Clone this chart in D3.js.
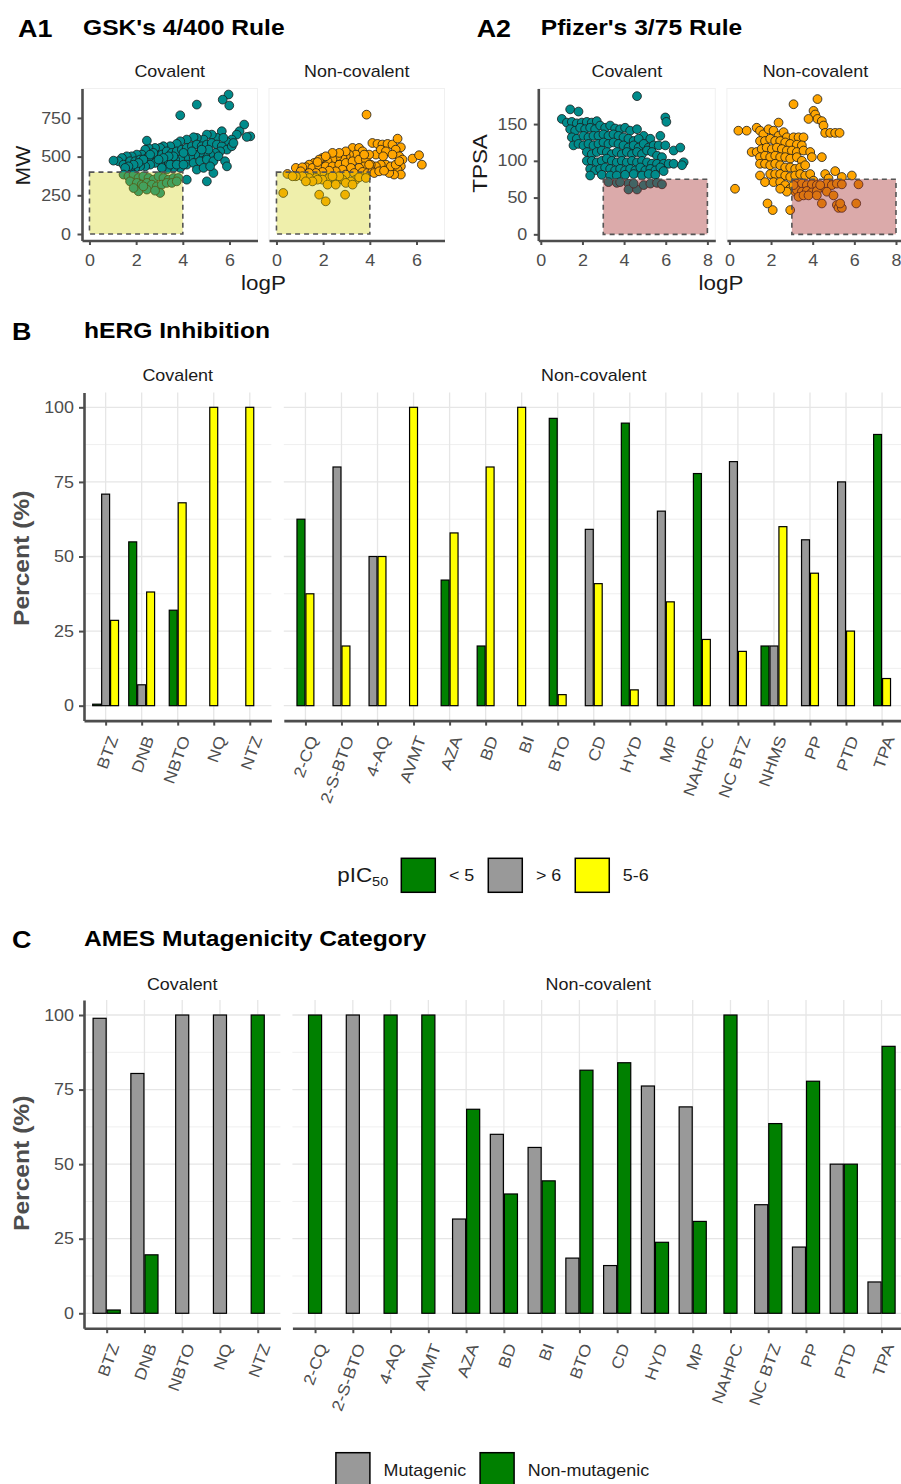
<!DOCTYPE html>
<html>
<head>
<meta charset="utf-8">
<script src="https://cdn.jsdelivr.net/npm/d3@7"></script>
<style>
  body { margin: 0; background: #fff; }
  svg { display: block; font-family: "Liberation Sans", Arial, Helvetica, sans-serif; }
</style>
</head>
<body>
<svg id="fig" width="901" height="1484"></svg>
<script>
// ---------------- Data ----------------
// A1: logP vs MW
const gskCovalent = [
  [5.96,901],[5.71,868],[5.99,830],[4.6,836],[3.89,767],[6.63,707],[6.89,631],[6.74,627],[6.43,664],[6.31,642],
  [6.1,610],[5.89,595],[5.67,664],[5.46,621],[5.24,642],[5.03,642],[4.89,610],[4.6,621],[4.46,625],[4.17,610],
  [3.89,599],[3.74,582],[3.46,567],[3.17,567],[3.03,556],[2.81,556],[2.53,556],[2.39,545],[2.46,603],[2.24,513],
  [2.03,513],[1.81,502],[1.6,502],[1.39,491],[1.24,470],[1.03,474],[1.46,448],[1.74,470],[1.96,470],[2.17,481],
  [2.46,491],[2.67,491],[2.89,502],[3.1,513],[3.31,534],[3.53,524],[3.74,534],[3.96,545],[4.17,556],[4.39,567],
  [4.6,578],[4.81,567],[5.03,578],[5.24,588],[5.46,578],[5.67,567],[5.89,545],[6.1,567],[5.6,534],[5.39,524],
  [5.17,513],[4.96,502],[4.74,524],[4.53,513],[4.31,502],[4.1,491],[3.89,481],[3.67,481],[3.46,470],[3.24,470],
  [3.03,459],[2.81,459],[2.6,448],[2.39,437],[2.17,437],[1.96,427],[1.74,416],[4.17,448],[4.46,459],[4.74,470],
  [5.03,481],[5.31,470],[5.53,502],[5.81,470],[5.89,437],[5.31,394],[5.03,340],[4.17,351],[4.6,416],[4.89,427],
  [5.17,437],[3.89,427],[3.6,427],[3.31,416],[3.1,427],[5.74,621],[6.17,588],[5.1,545],[4.81,545],[4.39,534],
  [4.03,524],[3.6,502],[3.39,502],[3.17,491],[2.96,481],[2.74,524],[2.6,513],[2.31,481],[2.1,459],[1.89,448],
  [1.67,437],[1.53,427],[3.46,448],[3.74,448],[4.03,448],
  [1.46,384],[1.67,373],[1.89,384],[2.1,362],[2.31,373],[2.53,362],[2.74,351],[2.96,373],[3.17,362],[3.39,351],
  [3.6,362],[3.81,362],[1.74,340],[2.03,330],[2.24,319],[2.46,330],[2.67,319],[2.89,308],[3.1,319],[3.31,330],
  [3.53,330],[3.74,340],[2.1,276],[3.03,265],[1.89,297],[2.46,287],[2.81,280],[2.31,308]
];
const gskNonCovalent = [
  [3.86,771],[0.47,388],[0.29,265],[0.83,427],[1.83,254],[2.11,211],[2.94,254],[4.11,588],[4.33,582],[4.54,578],
  [4.76,582],[4.97,578],[5.19,616],[5.33,560],[5.11,545],[5.26,502],[5.4,481],[5.33,437],[5.19,416],[5.33,384],
  [5.04,384],[4.83,394],[4.69,448],[4.47,448],[4.26,437],[4.04,448],[4.26,513],[4.47,545],[4.69,534],[5.83,487],
  [6.11,509],[6.23,448],[4.9,437],[5.11,448],[5.26,470],[4.97,513],[4.57,502],[3.26,556],[3.54,556],[3.69,534],
  [3.4,513],[3.11,513],[2.97,502],[2.83,491],[2.61,502],[2.4,481],[2.19,470],[1.97,491],[1.83,481],[1.61,459],
  [1.4,448],[1.26,431],[1.11,431],[1.54,427],[1.83,437],[2.11,437],[2.4,437],[2.69,448],[2.97,459],[3.26,470],
  [3.54,481],[3.83,481],[3.97,513],[3.76,437],[3.54,427],[3.19,427],[2.83,416],[2.54,405],[2.26,409],[1.97,401],
  [1.69,394],[1.4,394],[1.04,405],[2.97,384],[3.33,394],[3.69,401],[3.9,394],[4.11,405],[3.4,351],[3.19,340],
  [2.83,351],[2.54,340],[2.26,362],[1.97,351],[1.69,362],[1.4,362],[1.11,373],[0.83,373],[0.69,373],[2.19,319],
  [2.54,319],[2.97,330],[3.26,319],[2.69,373],[2.4,373],[1.76,351],[1.54,340],[1.26,340],[3.54,366],[3.83,362],
  [3.97,448],[4.19,394],[4.4,405],[4.61,409],[3.76,513],[2.97,534],[2.69,524],[2.4,524],[2.11,502],[1.76,465]
];
// A2: logP vs TPSA
const pfizerCovalent = [
  [4.62,188],[5.98,159],[6.03,153],[1.41,170],[1.81,167],[1.01,157],[1.25,152],[1.49,153],[1.73,151],[1.97,152],
  [2.21,153],[2.45,152],[2.69,154],[1.41,143],[1.65,141],[1.89,145],[2.13,143],[2.37,145],[2.61,143],[2.85,148],
  [3.09,145],[3.33,148],[3.57,144],[3.81,143],[4.05,145],[4.29,141],[4.62,143],[4.94,134],[5.26,130],[5.74,134],
  [1.49,132],[1.73,130],[2.05,134],[2.29,132],[2.53,134],[2.77,134],[3.01,136],[3.25,134],[3.49,136],[3.73,134],
  [3.97,132],[4.21,130],[4.46,127],[4.7,130],[1.57,121],[1.81,123],[2.05,121],[2.29,123],[2.53,121],[2.77,123],
  [3.01,125],[3.25,123],[3.49,125],[3.73,123],[3.97,121],[4.21,118],[4.46,121],[4.7,118],[4.94,123],[5.18,118],
  [5.42,121],[5.66,121],[5.98,121],[6.38,114],[6.7,118],[2.21,112],[2.45,109],[2.69,112],[2.93,114],[3.17,112],
  [3.41,109],[3.65,112],[3.89,109],[4.13,112],[4.38,109],[4.62,112],[4.86,109],[5.1,114],[5.34,112],[5.58,107],
  [5.82,105],[2.21,100],[2.45,100],[2.69,98],[2.93,100],[3.17,103],[3.41,100],[3.65,98],[3.89,100],[4.13,98],
  [4.38,100],[4.62,98],[4.86,100],[5.1,98],[5.34,96],[5.58,96],[5.9,96],[6.14,96],[6.38,96],[6.86,98],
  [6.78,94],[2.37,89],[2.61,87],[2.85,89],[3.09,91],[3.33,89],[3.57,87],[3.81,89],[4.05,87],[4.29,89],
  [4.54,87],[4.78,91],[5.02,87],[5.26,89],[5.5,87],[5.74,91],[2.37,80],[2.93,81],[3.33,80],[3.65,80],
  [4.05,81],[4.46,82],[4.86,80],[5.18,82],[5.5,81],[5.9,86],
  [3.25,71],[3.65,70],[4.21,69],[4.21,61],[4.62,61],[4.94,67],[5.26,69],[5.58,70],[5.82,68],[4.46,69],[3.81,71]
];
const pfizerNonCovalent = [
  [0.27,62],[0.43,141],[0.83,141],[3.08,177],[4.23,184],[4.04,168],[4.12,163],[4.23,157],[4.44,154],[4.52,148],
  [4.6,138],[4.84,138],[5.08,138],[5.29,138],[3.8,157],[1.83,42],[2.08,33],[2.92,33],[1.31,145],[1.47,141],
  [1.63,136],[1.88,143],[2.12,141],[2.36,152],[2.36,134],[2.6,139],[2.76,132],[3.08,132],[3.32,132],[3.56,132],
  [1.47,127],[1.71,127],[1.96,130],[2.2,127],[2.44,127],[2.68,125],[2.92,123],[3.24,122],[3.48,121],[1.07,112],
  [1.31,112],[1.55,116],[1.79,118],[2.04,116],[2.28,118],[2.52,116],[2.76,114],[3.0,114],[3.24,112],[3.56,114],
  [3.88,112],[1.47,105],[1.71,107],[1.96,105],[2.2,107],[2.44,105],[2.68,105],[2.92,103],[3.24,105],[3.48,100],
  [1.47,96],[1.71,96],[1.96,94],[2.2,96],[2.44,94],[2.68,91],[2.92,91],[3.16,89],[3.4,91],[3.64,94],
  [3.96,105],[4.44,105],[1.47,80],[1.96,82],[2.2,82],[2.44,82],[2.68,80],[2.92,78],[3.16,80],[3.4,82],
  [3.64,80],[3.88,82],[1.71,71],[2.12,71],[2.44,71],[2.68,67],[2.92,62],[3.16,58],[2.76,58],[2.44,62],
  [4.6,82],[5.08,86],[5.4,78],[5.88,80],[4.04,73],[4.76,76],
  [3.24,69],[3.48,69],[3.72,67],[3.96,68],[4.2,67],[4.44,64],[4.68,69],[4.92,67],[5.16,69],[5.4,68],
  [6.2,68],[3.24,60],[3.48,58],[3.72,59],[3.96,57],[4.2,59],[4.68,58],[3.32,51],[3.56,53],[3.8,53],
  [4.2,53],[4.44,42],[5.0,53],[5.16,40],[5.24,36],[5.4,36],[5.32,42],[6.09,42],[3.08,67],[4.36,67]
];

// B: hERG inhibition, percent per scaffold (null = no compounds in that class)
const hergCovCats = ["BTZ", "DNB", "NBTO", "NQ", "NTZ"];
const hergNonCats = ["2-CQ", "2-S-BTO", "4-AQ", "AVMT", "AZA", "BD", "BI", "BTO", "CD", "HYD",
                     "MP", "NAHPC", "NC BTZ", "NHMS", "PP", "PTD", "TPA"];
const hergLevels = ["< 5", "> 6", "5-6"];
const hergLt5Cov = [0.5, 54.9, 32, null, null];
const hergGt6Cov = [70.9, 7, null, null, null];
const herg56Cov  = [28.6, 38.1, 68, 100, 100];
const hergLt5Non = [62.5, null, null, null, 42.1, 20, null, 96.3, null, 94.7, null, 77.8, null, 20, null, null, 90.9];
const hergGt6Non = [null, 80, 50, null, null, null, null, null, 59.1, null, 65.2, null, 81.8, 20, 55.6, 75, null];
const herg56Non  = [37.5, 20, 50, 100, 57.9, 80, 100, 3.7, 40.9, 5.3, 34.8, 22.2, 18.2, 60, 44.4, 25, 9.1];

// C: AMES mutagenicity, percent per scaffold
const amesCovCats = ["BTZ", "DNB", "NBTO", "NQ", "NTZ"];
const amesNonCats = ["2-CQ", "2-S-BTO", "4-AQ", "AVMT", "AZA", "BD", "BI", "BTO", "CD", "HYD",
                     "MP", "NAHPC", "NC BTZ", "PP", "PTD", "TPA"];
const amesLevels = ["Mutagenic", "Non-mutagenic"];
const amesMutCov    = [98.9, 80.4, 100, 100, null];
const amesNonMutCov = [1.1, 19.6, null, null, 100];
const amesMutNon    = [null, 100, null, null, 31.6, 60, 55.6, 18.5, 16, 76.2, 69.2, null, 36.4, 22.2, 50, 10.5];
const amesNonMutNon = [100, null, 100, 100, 68.4, 40, 44.4, 81.5, 84, 23.8, 30.8, 100, 63.6, 77.8, 50, 89.5];

const percentTicks = [0, 25, 50, 75, 100];

// ---------------- Styling ----------------
const SX = 1.12;                 // horizontal text widening
const AXIS = "#4d4d4d";
const GREEN = "#008000", GREY = "#999999", YELLOW = "#ffff00";
const TEAL = "#008b8b", ORANGE = "#ffa500";
const FONT = '"Liberation Sans", Arial, Helvetica, sans-serif';

const svg = d3.select("#fig");
svg.append("rect").attr("width", 901).attr("height", 1484).attr("fill", "#fff");

function label(x, y, str, o = {}) {
  const rot = o.rotate ? ` rotate(${o.rotate})` : "";
  const t = svg.append("text")
    .attr("transform", `translate(${x},${y})${rot} scale(${SX},1)`)
    .attr("font-size", o.size || 16)
    .attr("font-weight", o.weight || "normal")
    .attr("fill", o.fill || "#1a1a1a")
    .attr("text-anchor", o.anchor || "start")
    .text(str);
  return t;
}

function styleAxis(g, showDomain = true) {
  g.attr("font-family", FONT).attr("font-size", 16);
  g.select(".domain").attr("stroke", showDomain ? AXIS : "none").attr("stroke-width", 2.6);
  g.selectAll(".tick line").attr("stroke", AXIS).attr("stroke-width", 2);
  g.selectAll(".tick text").attr("fill", "#4d4d4d").each(function () {
    const t = d3.select(this);
    const x = +t.attr("x") || 0, y = +t.attr("y") || 0;
    t.attr("x", 0).attr("y", 0).attr("transform", `translate(${x},${y}) scale(${SX},1)`);
  });
}

// ---------------- Scatter panels (A1, A2) ----------------
function scatterPanel(p) {
  const x = d3.scaleLinear().domain(p.xDomain).range([p.x0, p.x1]);
  const y = d3.scaleLinear().domain(p.yDomain).range([p.yBottom, p.yTop]);
  const g = svg.append("g");
  g.append("rect").attr("x", p.x0).attr("y", p.yTop).attr("width", p.x1 - p.x0)
    .attr("height", p.yBottom - p.yTop).attr("fill", "none").attr("stroke", "#f0f0f0").attr("stroke-width", 1);
  g.selectAll("circle").data(p.data).join("circle")
    .attr("cx", d => x(d[0])).attr("cy", d => y(d[1])).attr("r", 4.4)
    .attr("fill", p.fill).attr("stroke", "#1a1a1a").attr("stroke-width", 0.8);
  const [rx0, rx1, ry0, ry1] = p.rule;
  g.append("rect")
    .attr("x", x(rx0)).attr("y", y(ry1)).attr("width", x(rx1) - x(rx0)).attr("height", y(ry0) - y(ry1))
    .attr("fill", p.ruleFill).attr("fill-opacity", p.ruleOpacity)
    .attr("stroke", "#555").attr("stroke-width", 1.6).attr("stroke-dasharray", "5,4");
  const ax = g.append("g").attr("transform", `translate(0,${p.yBottom})`)
    .call(d3.axisBottom(x).tickValues(p.xTicks).tickSize(4.5).tickPadding(9.5).tickSizeOuter(0));
  styleAxis(ax);
  if (p.showY) {
    const ay = g.append("g").attr("transform", `translate(${p.x0},0)`)
      .call(d3.axisLeft(y).tickValues(p.yTicks).tickSize(4.5).tickPadding(6.5).tickSizeOuter(0));
    styleAxis(ay);
  }
  label((p.x0 + p.x1) / 2, 77, p.strip, { anchor: "middle", size: 16 });
}

const A1y = { yDomain: [-42, 940], yTop: 88.5, yBottom: 240.5, yTicks: [0, 250, 500, 750] };
scatterPanel({ ...A1y, x0: 82, x1: 257.5, xDomain: [-0.32, 7.2], xTicks: [0, 2, 4, 6],
  data: gskCovalent, fill: TEAL, rule: [0, 4, 0, 400], ruleFill: "#cdcd00", ruleOpacity: 0.33,
  showY: true, strip: "Covalent" });
scatterPanel({ ...A1y, x0: 269, x1: 444.5, xDomain: [-0.32, 7.2], xTicks: [0, 2, 4, 6],
  data: gskNonCovalent, fill: ORANGE, rule: [0, 4, 0, 400], ruleFill: "#cdcd00", ruleOpacity: 0.33,
  showY: false, strip: "Non-covalent" });

const A2y = { yDomain: [-8.4, 198.4], yTop: 88.5, yBottom: 240.5, yTicks: [0, 50, 100, 150] };
scatterPanel({ ...A2y, x0: 538.3, x1: 715.3, xDomain: [-0.12, 8.38], xTicks: [0, 2, 4, 6, 8],
  data: pfizerCovalent, fill: TEAL, rule: [3, 8, 0, 75], ruleFill: "#a52a2a", ruleOpacity: 0.4,
  showY: true, strip: "Covalent" });
scatterPanel({ ...A2y, x0: 726.9, x1: 903.9, xDomain: [-0.12, 8.38], xTicks: [0, 2, 4, 6, 8],
  data: pfizerNonCovalent, fill: ORANGE, rule: [3, 8, 0, 75], ruleFill: "#a52a2a", ruleOpacity: 0.4,
  showY: false, strip: "Non-covalent" });

label(18, 37, "A1", { size: 24, weight: "bold", fill: "#000" });
label(83, 35, "GSK's 4/400 Rule", { size: 22, weight: "bold", fill: "#000" });
label(476.7, 37, "A2", { size: 24, weight: "bold", fill: "#000" });
label(540.7, 35, "Pfizer's 3/75 Rule", { size: 22, weight: "bold", fill: "#000" });
label(29.5, 165.5, "MW", { size: 20, anchor: "middle", rotate: -90 });
label(486.5, 163.5, "TPSA", { size: 20, anchor: "middle", rotate: -90 });
label(263.5, 290, "logP", { size: 20, anchor: "middle" });
label(721, 290, "logP", { size: 20, anchor: "middle" });

// ---------------- Grouped bar panels (B, C) ----------------
function barPanel(p) {
  const x = d3.scalePoint().domain(p.cats).range([p.x0, p.x1]).padding(0.6);
  const y = p.y;
  const [yb, yt] = y.range();
  const g = svg.append("g");
  // grid
  const minor = d3.range(12.5, 100, 25);
  g.selectAll("line.minor").data(minor).join("line")
    .attr("x1", p.x0).attr("x2", p.x1).attr("y1", d => y(d)).attr("y2", d => y(d))
    .attr("stroke", "#efefef").attr("stroke-width", 1);
  g.selectAll("line.hmaj").data(percentTicks).join("line")
    .attr("x1", p.x0).attr("x2", p.x1).attr("y1", d => y(d)).attr("y2", d => y(d))
    .attr("stroke", "#e6e6e6").attr("stroke-width", 1.3);
  g.selectAll("line.vmaj").data(p.cats).join("line")
    .attr("x1", d => x(d)).attr("x2", d => x(d)).attr("y1", yt).attr("y2", yb)
    .attr("stroke", "#e6e6e6").attr("stroke-width", 1.3);
  // bars: present classes are centred on the category
  const step = x.step();
  const bw = step * 0.745 / p.series.length;
  const bars = [];
  p.cats.forEach((c, i) => {
    const present = p.series.map((s, k) => ({ k, v: s[i] })).filter(d => d.v != null);
    present.forEach((d, j) => {
      bars.push({ c, k: d.k, v: d.v, off: (j - (present.length - 1) / 2) * bw });
    });
  });
  g.selectAll("rect.bar").data(bars).join("rect")
    .attr("x", d => x(d.c) + d.off - bw / 2 + 0.5).attr("width", bw - 1)
    .attr("y", d => y(d.v)).attr("height", d => y(0) - y(d.v))
    .attr("fill", d => p.colors[d.k]).attr("stroke", "#000").attr("stroke-width", 1.2);
  // axes
  const ax = g.append("g").attr("transform", `translate(0,${yb})`)
    .call(d3.axisBottom(x).tickSize(5).tickSizeOuter(0));
  styleAxis(ax);
  ax.selectAll(".tick text")
    .attr("text-anchor", "end").attr("dy", "0.71em")
    .attr("transform", `translate(1.6,14) rotate(-70) scale(${SX},1)`);
  if (p.showY) {
    const ay = g.append("g").attr("transform", `translate(${p.x0},0)`)
      .call(d3.axisLeft(y).tickValues(percentTicks).tickSize(5).tickPadding(5).tickSizeOuter(0));
    styleAxis(ay);
  }
  label((p.x0 + p.x1) / 2, p.stripY, p.strip, { anchor: "middle", size: 16 });
}

function legend(cx, cy, title, levels, colors) {
  const g = svg.append("g");
  let xpos = 0;
  if (title) {
    const t = g.append("text").attr("font-size", 20).attr("fill", "#1a1a1a")
      .attr("transform", `translate(0,${cy + 6.5}) scale(${SX},1)`);
    t.append("tspan").text(title[0]);
    t.append("tspan").attr("font-size", 13).attr("dy", 4).text(title[1]);
    xpos = t.node().getComputedTextLength() * SX + 13;
  }
  levels.forEach((lv, i) => {
    g.append("rect").attr("x", xpos).attr("y", cy - 17).attr("width", 34).attr("height", 34)
      .attr("fill", colors[i]).attr("stroke", "#000").attr("stroke-width", 1.5);
    const tx = g.append("text").attr("font-size", 16).attr("fill", "#1a1a1a")
      .attr("transform", `translate(${xpos + 47.6},${cy + 6}) scale(${SX},1)`).text(lv);
    const w = tx.node().getComputedTextLength() * SX;
    xpos += 47.6 + w + 14;
  });
  const total = xpos - 14;
  g.attr("transform", `translate(${cx - total / 2},0)`);
}

// B
const yB = d3.scaleLinear().domain([-5, 105]).range([720.6, 392.4]);
barPanel({ cats: hergCovCats, series: [hergLt5Cov, hergGt6Cov, herg56Cov], colors: [GREEN, GREY, YELLOW],
  x0: 84, x1: 271.4, y: yB, showY: true, strip: "Covalent", stripY: 381 });
barPanel({ cats: hergNonCats, series: [hergLt5Non, hergGt6Non, herg56Non], colors: [GREEN, GREY, YELLOW],
  x0: 283.8, x1: 903.7, y: yB, showY: false, strip: "Non-covalent", stripY: 381 });
label(12, 340, "B", { size: 24, weight: "bold", fill: "#000" });
label(84, 338, "hERG Inhibition", { size: 22, weight: "bold", fill: "#000" });
label(29, 558.3, "Percent (%)", { size: 22, weight: "bold", fill: "#4d4d4d", anchor: "middle", rotate: -90 });
legend(493, 875.3, ["pIC", "50"], hergLevels, [GREEN, GREY, YELLOW]);

// C
const yC = d3.scaleLinear().domain([-5, 105]).range([1328.2, 1000.1]);
barPanel({ cats: amesCovCats, series: [amesMutCov, amesNonMutCov], colors: [GREY, GREEN],
  x0: 84, x1: 280.4, y: yC, showY: true, strip: "Covalent", stripY: 990 });
barPanel({ cats: amesNonCats, series: [amesMutNon, amesNonMutNon], colors: [GREY, GREEN],
  x0: 292.4, x1: 904.2, y: yC, showY: false, strip: "Non-covalent", stripY: 990 });
label(12, 948, "C", { size: 24, weight: "bold", fill: "#000" });
label(84, 946, "AMES Mutagenicity Category", { size: 22, weight: "bold", fill: "#000" });
label(29, 1163.3, "Percent (%)", { size: 22, weight: "bold", fill: "#4d4d4d", anchor: "middle", rotate: -90 });
legend(492.5, 1469.7, null, amesLevels, [GREY, GREEN]);
</script>
</body>
</html>
